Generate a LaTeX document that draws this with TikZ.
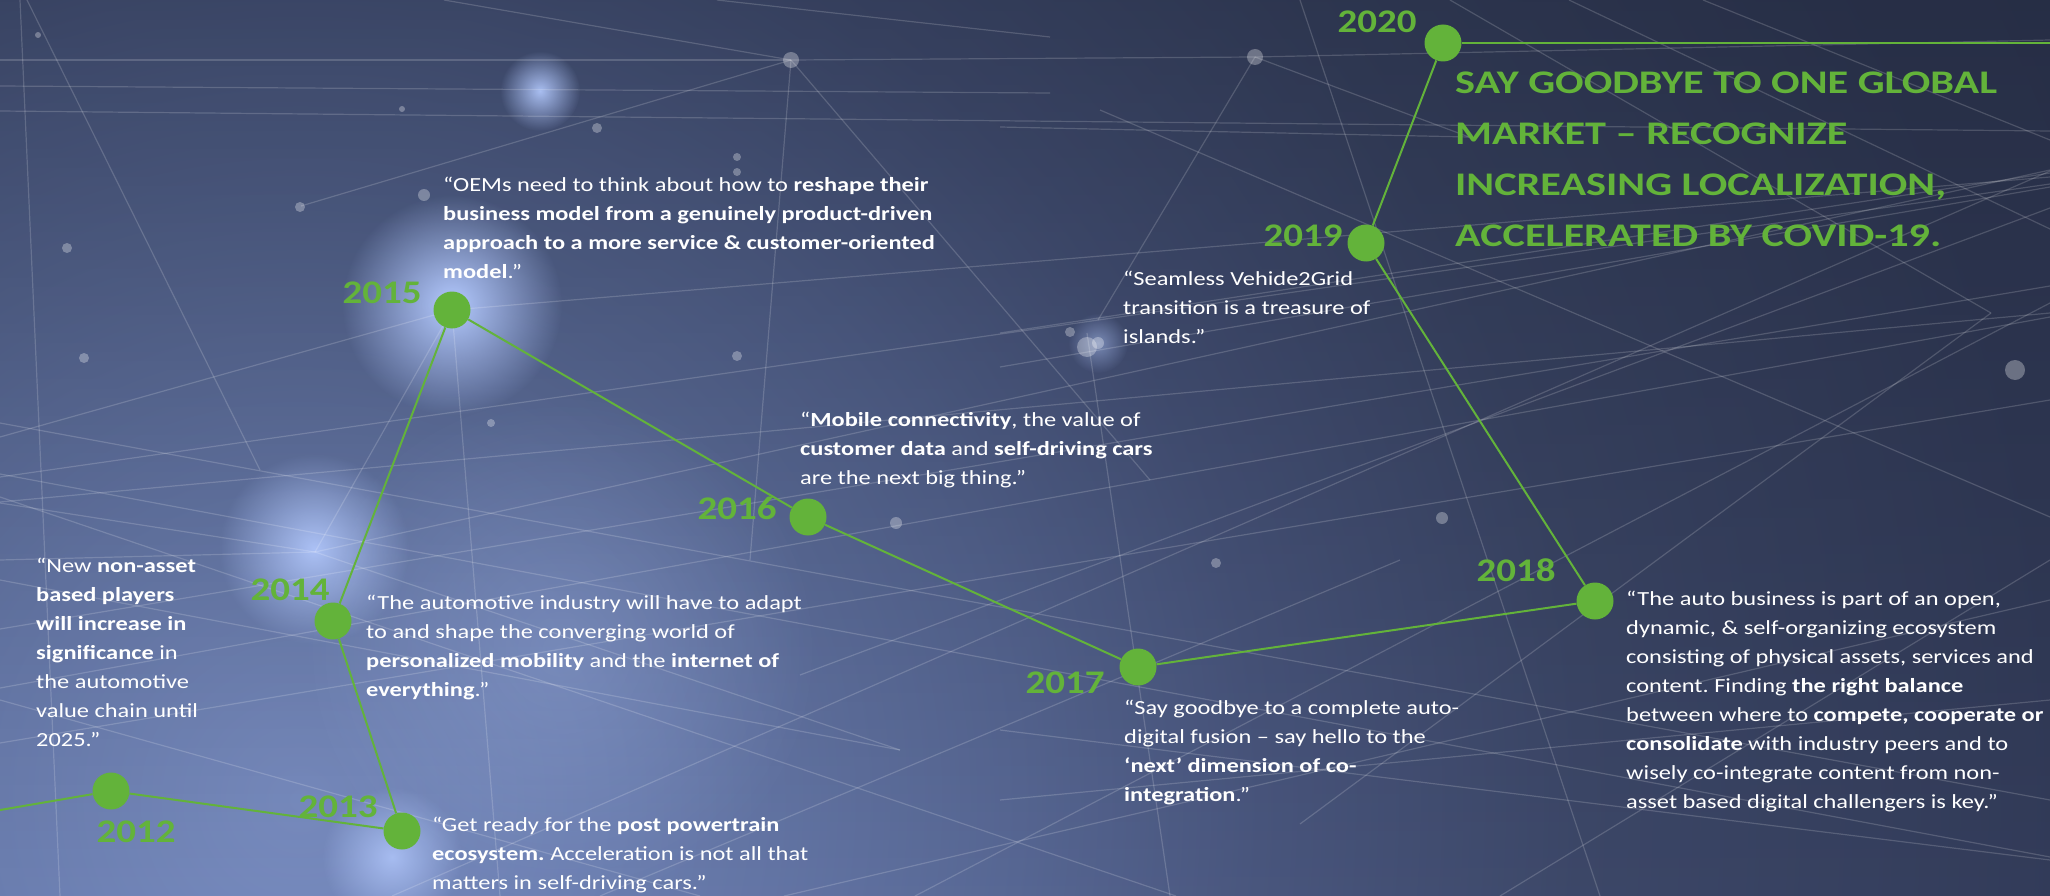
\documentclass[tikz,border=0pt]{standalone}
\usepackage{fontspec}
\setmainfont{Carlito}[FakeStretch=1.22]
\newfontfamily\headfont{Carlito}[FakeStretch=1.28]
\newfontfamily\yearfont{Carlito}[FakeStretch=1.18]
\usetikzlibrary{positioning,fadings}
\definecolor{tlgreen}{HTML}{63B33A}
\definecolor{bgA}{HTML}{7A8EC2}
\definecolor{bgB}{HTML}{6C7FB1}
\definecolor{bgC}{HTML}{586895}
\definecolor{bgD}{HTML}{4A577F}
\definecolor{bgE}{HTML}{3D4869}
\definecolor{bgF}{HTML}{333C5A}
\definecolor{bgG}{HTML}{2A3250}
\definecolor{bgTop}{HTML}{151A28}
\definecolor{glowcol}{HTML}{B4CAFF}
\tikzfading[name=glowfade, inner color=transparent!0, outer color=transparent!100]
\tikzfading[name=topfade, top color=transparent!60, bottom color=transparent!100]
\pgfdeclareradialshading{bgshade}{\pgfpoint{0bp}{0bp}}{color(0bp)=(bgA); color(4bp)=(bgB);
  color(9bp)=(bgC); color(12bp)=(bgD); color(16bp)=(bgE); color(22bp)=(bgF); color(50bp)=(bgG)}
\frenchspacing

\begin{document}
\begin{tikzpicture}[x=1pt, y=-1pt,
            dot/.style={circle, fill=tlgreen, minimum size=37pt, inner sep=0pt},
            year/.style={text=tlgreen, inner sep=0pt,
              font=\yearfont\fontsize{33}{33}\selectfont\bfseries},
            quote/.style={anchor=north west, inner sep=0pt, align=left, text=white,
              font=\fontsize{20}{29}\selectfont},
            headline/.style={anchor=north west, inner sep=0pt, align=left, text=tlgreen,
              font=\headfont\fontsize{33}{51}\selectfont\bfseries},
            link/.style={draw=tlgreen, line width=2pt},
            net/.style={draw=white, opacity=0.17, line width=1.2pt},
            spark/.style={fill=white, opacity=0.3},
            glow/.style={fill=glowcol, path fading=glowfade}
            ]
            \useasboundingbox (0,0) rectangle (2050,896);
            % background
            \begin{scope}
              \clip (0,0) rectangle (2050,896);
              \shade[shading=bgshade] (300,800) circle (2000);
              \fill[bgTop, path fading=topfade] (-20,-20) rectangle (2070,916);
              \foreach \gx/\gy/\gr/\go in {452/305/110/1, 314/549/95/0.9, 392/857/70/0.8,
                  540/91/40/0.9, 560/650/260/0.25, 1098/343/30/0.5}
                \fill[glow, fill opacity=\go] (\gx,\gy) circle (\gr);
              \foreach \ax/\ay/\bx/\by in {0/60/791/60, 0/86/1050/93, 0/111/2050/131, 27/0/260/470,
                  444/0/791/60, 791/60/301/206, 791/60/750/560, 791/60/1150/480,
                  717/0/1050/37, 791/60/1255/57, 1255/57/2050/40, 1255/57/1098/320,
                  1255/57/1469/137, 1000/127/1469/137, 1703/0/2050/140, 1569/0/2050/229,
                  1000/333/2050/173, 1000/367/2050/187, 0/437/452/310, 0/477/2050/184,
                  452/310/2050/177, 452/310/500/896, 452/310/315/552, 315/552/2050/170,
                  0/503/315/552, 0/560/315/552, 315/552/900/750, 0/502/2050/313,
                  0/688/2050/317, 1100/110/2050/517, 2050/208/800/675, 1991/313/1300/824,
                  1087/333/1170/896, 0/580/900/750, 0/700/700/896, 600/896/1400/560,
                  1000/730/2050/860, 1000/800/2050/700, 2050/560/1500/896, 20/0/60/896,
                  1450/0/1991/313, 1300/0/1600/896, 0/423/2050/800, 0/474/2050/857,
                  0/497/1176/896, 392/896/2050/171, 915/896/2050/303, 0/629/2050/286,
                  0/743/2050/400, 2050/600/784/896}
                \draw[net] (\ax,\ay) -- (\bx,\by);
              \foreach \sx/\sy/\sr in {38/35/3, 402/109/3, 424/195/6, 300/207/5, 67/248/5,
                  737/157/4, 737/172/4, 597/128/5, 84/358/5, 737/356/5, 896/523/6, 491/423/4,
                  1442/518/6, 1216/563/5, 2015/370/10, 1070/332/5, 1087/347/10, 791/60/8,
                  1255/57/8, 1098/343/6}
                \fill[spark] (\sx,\sy) circle (\sr);
            \end{scope}
            % timeline
            \foreach \yr/\px/\py in {2012/111/791, 2013/402/831, 2014/333/621, 2015/452/310,
                2016/808/517, 2017/1138/667, 2018/1595/601, 2019/1366/243, 2020/1443/43}
              \node[dot] (d\yr) at (\px,\py) {};
            \foreach \yr/\px/\py in {2012/136/832, 2013/338/807, 2014/290/590, 2015/382/293,
                2016/737/508, 2017/1065/683, 2018/1516/570, 2019/1303/236, 2020/1377/22}
              \node[year] (y\yr) at (\px,\py) {\yr};
            \coordinate (lIn) at (0,810);
            \coordinate (rOut) at (2050,43);
            \draw[link] (lIn) -- (d2012);
            \foreach \a/\b in {2012/2013, 2013/2014, 2014/2015, 2015/2016, 2016/2017,
                2017/2018, 2018/2019, 2019/2020}
              \draw[link] (d\a) -- (d\b);
            \draw[link] (d2020) -- (rOut);
            % quotes
            \node[quote] (q2012) at (36,558) {“New \textbf{non-asset}\\ \textbf{based players}\\
              \textbf{will increase in}\\ \textbf{significance} in\\ the automotive\\
              value chain until\\ 2025.”};
            \node[quote] (q2013) at (432,817) {“Get ready for the \textbf{post powertrain}\\
              \textbf{ecosystem.} Acceleration is not all that\\ matters in self-driving cars.”};
            \node[quote] (q2014) at (366,595) {“The automotive industry will have to adapt\\
              to and shape the converging world of\\
              \textbf{personalized mobility} and the \textbf{internet of}\\ \textbf{everything}.”};
            \node[quote] (q2015) at (443,177) {“OEMs need to think about how to \textbf{reshape their}\\
              \textbf{business model from a genuinely product-driven}\\
              \textbf{approach to a more service \& customer-oriented}\\ \textbf{model}.”};
            \node[quote] (q2016) at (800,412) {“\textbf{Mobile connectivity}, the value of\\
              \textbf{customer data} and \textbf{self-driving cars}\\ are the next big thing.”};
            \node[quote] (q2017) at (1124,700) {“Say goodbye to a complete auto-\\
              digital fusion – say hello to the\\ \textbf{‘next’ dimension of co-}\\
              \textbf{integration}.”};
            \node[quote] (q2018) at (1626,591) {“The auto business is part of an open,\\
              dynamic, \& self-organizing ecosystem\\ consisting of physical assets, services and\\
              content. Finding \textbf{the right balance}\\ between where to \textbf{compete, cooperate or}\\
              \textbf{consolidate} with industry peers and to\\ wisely co-integrate content from non-\\
              asset based digital challengers is key.”};
            \node[quote] (q2019) at (1123,271) {“Seamless Vehide2Grid\\ transition is a treasure of\\
              islands.”};
            \node[headline] (title) at (1455,72) {SAY GOODBYE TO ONE GLOBAL\\ MARKET – RECOGNIZE\\
              INCREASING LOCALIZATION,\\ ACCELERATED BY COVID-19.};
        \end{tikzpicture}
\end{document}
